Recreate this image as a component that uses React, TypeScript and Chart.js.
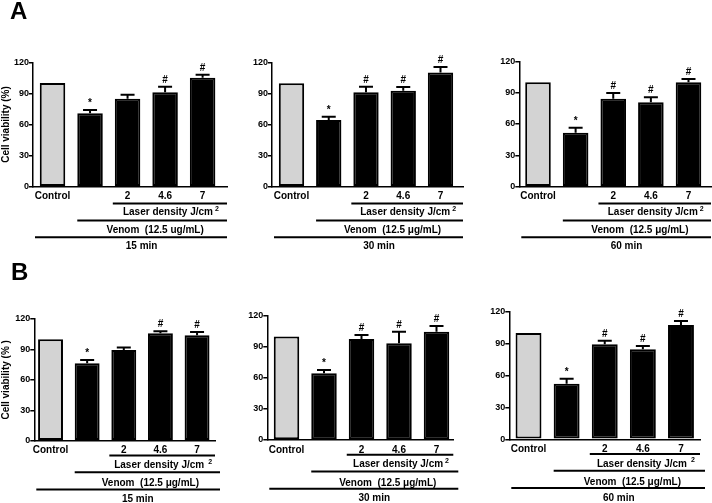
import React, { useEffect, useRef } from "react";
import { Chart, registerables } from "chart.js";

Chart.register(...registerables);

// ---------- data ----------
const categories = ["Control", "", "2", "4.6", "7"];
const yTickValues = [0, 30, 60, 90, 120];

const a15Values = [100, 70.8, 84.9, 91.0, 105.0];
const a15Errors = [0, 3.2, 3.8, 5.4, 3.0];
const a15Marks = ["", "*", "", "#", "#"];

const a30Values = [100, 64.6, 91.4, 92.9, 110.5];
const a30Errors = [0, 3.2, 5.4, 3.6, 5.3];
const a30Marks = ["", "*", "#", "#", "#"];

const a60Values = [100, 51.7, 84.2, 80.8, 99.9];
const a60Errors = [0, 4.8, 5.5, 4.8, 3.2];
const a60Marks = ["", "*", "#", "#", "#"];

const b15Values = [100, 76.3, 89.4, 105.9, 103.9];
const b15Errors = [0, 3.3, 2.6, 2.0, 3.3];
const b15Marks = ["", "*", "", "#", "#"];

const b30Values = [100, 64.4, 97.5, 93.3, 104.5];
const b30Errors = [0, 3.2, 3.9, 11.2, 5.5];
const b30Marks = ["", "*", "#", "#", "#"];

const b60Values = [100, 52.3, 89.3, 84.6, 107.4];
const b60Errors = [0, 4.7, 3.4, 3.1, 3.8];
const b60Marks = ["", "*", "#", "#", "#"];

const timeLabels = ["15 min", "30 min", "60 min"];
const laserLabel = "Laser density J/cm";
const laserSup = "2";
const venomLabels = ["Venom  (12.5 ug/mL)", "Venom  (12.5 \u03BCg/mL)"];
const yTitles = ["Cell viability (%)", "Cell viability (% )"];
const panelLetters = ["A", "B"];

// ---------- layout / style ----------
const W = 712;
const H = 503;
const FONT = "'Liberation Sans', Arial, Helvetica, sans-serif";
const X_AXIS_H = 20;

const rowA = { laserLine: 16.8, laserText: 25.8, venomLine: 33.8, venomText: 43.3, timeLine: 50.5, timeText: 59.8, ext: 0 };
const rowB = { laserLine: 14.7, laserText: 24.5, venomLine: 31.5, venomText: 43, timeLine: 48.8, timeText: 58.5, ext: 5 };

type Panel = {
  values: number[];
  errors: number[];
  marks: string[];
  time: string;
  venom: string;
  yTitle: string | null;
  axisX: number;
  axisEnd: number;
  top: number;
  bottom: number;
  xMin: number;
  xMax: number;
  row: typeof rowA;
  supGap: number;
};

const panels: Panel[] = [
  { values: a15Values, errors: a15Errors, marks: a15Marks, time: timeLabels[0], venom: venomLabels[0], yTitle: yTitles[0],
    axisX: 33, axisEnd: 227, top: 62.3, bottom: 186.7, xMin: -0.52, xMax: 4.65, row: rowA, supGap: 2 },
  { values: a30Values, errors: a30Errors, marks: a30Marks, time: timeLabels[1], venom: venomLabels[1], yTitle: null,
    axisX: 272, axisEnd: 463, top: 62.7, bottom: 186.7, xMin: -0.523, xMax: 4.604, row: rowA, supGap: 2 },
  { values: a60Values, errors: a60Errors, marks: a60Marks, time: timeLabels[2], venom: venomLabels[1], yTitle: null,
    axisX: 519.3, axisEnd: 711, top: 61.3, bottom: 186.7, xMin: -0.497, xMax: 4.598, row: rowA, supGap: 2 },
  { values: b15Values, errors: b15Errors, marks: b15Marks, time: timeLabels[0], venom: venomLabels[1], yTitle: yTitles[1],
    axisX: 34.3, axisEnd: 215, top: 319, bottom: 440.7, xMin: -0.443, xMax: 4.49, row: rowB, supGap: 4 },
  { values: b30Values, errors: b30Errors, marks: b30Marks, time: timeLabels[1], venom: venomLabels[1], yTitle: null,
    axisX: 267.3, axisEnd: 453.3, top: 315.7, bottom: 440, xMin: -0.512, xMax: 4.448, row: rowB, supGap: 2 },
  { values: b60Values, errors: b60Errors, marks: b60Marks, time: timeLabels[2], venom: venomLabels[1], yTitle: null,
    axisX: 509.3, axisEnd: 700, top: 311.7, bottom: 439.3, xMin: -0.504, xMax: 4.499, row: rowB, supGap: 4 },
];

function makeAnnotations(p: Panel) {
  return {
    id: "annotations",
    afterDatasetsDraw(chart: any) {
      const ctx = chart.ctx as CanvasRenderingContext2D;
      const y = chart.scales.y;
      const meta = chart.getDatasetMeta(0);
      ctx.save();
      ctx.strokeStyle = "#000";
      ctx.fillStyle = "#000";
      ctx.lineWidth = 2;
      p.values.forEach((v, i) => {
        const bar: any = meta.data[i];
        const x = bar.x;
        const e = p.errors[i];
        const yv = y.getPixelForValue(v);
        const yt = y.getPixelForValue(v + e);
        if (e > 0) {
          ctx.beginPath();
          ctx.moveTo(x, yv);
          ctx.lineTo(x, yt);
          ctx.moveTo(x - 7, yt);
          ctx.lineTo(x + 7, yt);
          ctx.stroke();
        }
        const m = p.marks[i];
        if (m) {
          ctx.font = `bold 10px ${FONT}`;
          ctx.textAlign = "center";
          ctx.textBaseline = "alphabetic";
          ctx.fillText(m, x, yt - 4);
        }
      });
      ctx.restore();
    },
    afterDraw(chart: any) {
      const ctx = chart.ctx as CanvasRenderingContext2D;
      const area = chart.chartArea;
      const meta = chart.getDatasetMeta(0);
      const b1: any = meta.data[1];
      const b2: any = meta.data[2];
      const hw = b1.width / 2;
      const o = p.row;
      const laserL = b2.x - hw - 2;
      const laserR = area.right;
      const venomL = b1.x - hw;
      const venomR = area.right + o.ext;
      const timeL = area.left + 2;
      const timeR = area.right + o.ext;
      ctx.save();
      ctx.strokeStyle = "#000";
      ctx.fillStyle = "#000";
      ctx.lineWidth = 2;
      const hline = (x1: number, x2: number, yy: number) => {
        ctx.beginPath();
        ctx.moveTo(x1, yy);
        ctx.lineTo(x2, yy);
        ctx.stroke();
      };
      hline(laserL, laserR, area.bottom + o.laserLine);
      hline(venomL, venomR, area.bottom + o.venomLine);
      hline(timeL, timeR, area.bottom + o.timeLine);

      ctx.textBaseline = "middle";
      // laser label with superscript
      ctx.font = `bold 10px ${FONT}`;
      const wMain = ctx.measureText(laserLabel).width;
      ctx.font = `bold 7px ${FONT}`;
      const wSup = ctx.measureText(laserSup).width;
      const total = wMain + p.supGap + wSup;
      const laserC = (laserL + laserR) / 2 + 1;
      const sx = laserC - total / 2;
      const ly = area.bottom + o.laserText;
      ctx.textAlign = "left";
      ctx.font = `bold 10px ${FONT}`;
      ctx.fillText(laserLabel, sx, ly);
      ctx.font = `bold 7px ${FONT}`;
      ctx.fillText(laserSup, sx + wMain + p.supGap, ly - 3.5);

      ctx.textAlign = "center";
      ctx.font = `bold 10px ${FONT}`;
      const venomC = (venomL + venomR) / 2 + 3;
      ctx.fillText(p.venom, venomC, area.bottom + o.venomText);
      const timeC = ((timeL + timeR) / 2 + (venomL + venomR) / 2) / 2;
      ctx.fillText(p.time, timeC, area.bottom + o.timeText);
      ctx.restore();
    },
  };
}

function buildConfig(p: Panel): any {
  const yW = p.yTitle ? p.axisX : 30;
  const padLeft = p.axisX - yW;
  return {
    type: "bar",
    data: {
      datasets: [
        {
          data: p.values.map((v, i) => ({ x: i, y: v })),
          backgroundColor: p.values.map((_, i) => (i === 0 ? "#d3d3d3" : "#000000")),
          borderColor: "#000000",
          borderWidth: 2,
          borderSkipped: false,
          barPercentage: 0.68,
          categoryPercentage: 1,
        },
      ],
    },
    options: {
      responsive: false,
      maintainAspectRatio: false,
      animation: false,
      devicePixelRatio: 1,
      events: [],
      layout: {
        padding: { left: padLeft, right: W - p.axisEnd, top: p.top, bottom: H - p.bottom - X_AXIS_H },
      },
      plugins: {
        legend: { display: false },
        tooltip: { enabled: false },
        title: { display: false },
      },
      scales: {
        x: {
          type: "linear",
          min: p.xMin,
          max: p.xMax,
          offset: false,
          afterBuildTicks: (s: any) => {
            s.ticks = categories.map((_, i) => ({ value: i }));
          },
          afterFit: (s: any) => {
            s.height = X_AXIS_H;
          },
          grid: { display: false, drawTicks: false, offset: false },
          border: { display: true, color: "#000", width: 1.5 },
          ticks: {
            callback: (_v: any, i: number) => categories[i] ?? "",
            font: { family: FONT, size: 10, weight: "bold" },
            color: "#000",
            padding: 4,
            autoSkip: false,
            maxRotation: 0,
            minRotation: 0,
          },
        },
        y: {
          min: 0,
          max: 120,
          afterBuildTicks: (s: any) => {
            s.ticks = yTickValues.map((v) => ({ value: v }));
          },
          afterFit: (s: any) => {
            s.width = yW;
          },
          grid: { display: true, drawOnChartArea: false, drawTicks: true, tickLength: 4, color: "#000", lineWidth: 1.5 },
          border: { display: true, color: "#000", width: 1.5 },
          ticks: {
            font: { family: FONT, size: 9, weight: "bold" },
            color: "#000",
            padding: 0,
          },
          title: {
            display: !!p.yTitle,
            text: p.yTitle || "",
            font: { family: FONT, size: 10, weight: "bold" },
            color: "#000",
            padding: 0,
          },
        },
      },
    },
    plugins: [makeAnnotations(p)],
  };
}

export default function App() {
  const refs = useRef<(HTMLCanvasElement | null)[]>([]);

  useEffect(() => {
    const charts = panels.map((p, i) => new Chart(refs.current[i] as HTMLCanvasElement, buildConfig(p)));
    return () => {
      charts.forEach((c) => c.destroy());
    };
  }, []);

  const letterStyle: React.CSSProperties = {
    position: "absolute",
    font: `bold 24px ${FONT}`,
    lineHeight: "24px",
    color: "#000",
  };

  return (
    <div style={{ position: "absolute", left: 0, top: 0, width: W, height: H, background: "#fff", overflow: "hidden" }}>
      {panels.map((_, i) => (
        <canvas
          key={i}
          ref={(el) => {
            refs.current[i] = el;
          }}
          width={W}
          height={H}
          style={{ position: "absolute", left: 0, top: 0, width: W, height: H }}
        />
      ))}
      <div style={{ ...letterStyle, left: 10, top: -1.3 }}>{panelLetters[0]}</div>
      <div style={{ ...letterStyle, left: 11, top: 259.7 }}>{panelLetters[1]}</div>
    </div>
  );
}
